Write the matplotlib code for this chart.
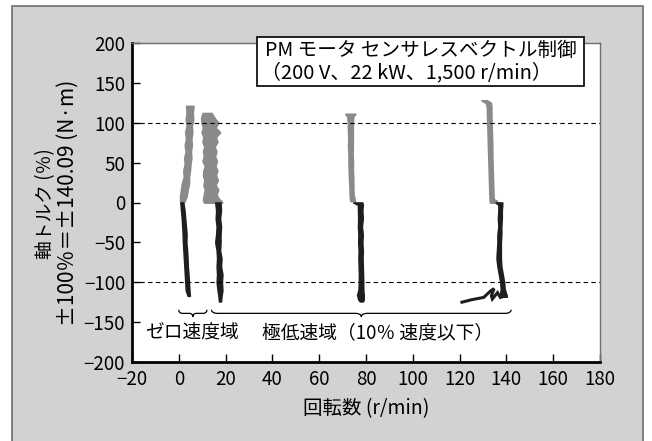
import numpy as np
import matplotlib.pyplot as plt
from matplotlib.patches import Rectangle

plt.rcParams['font.family'] = ['Noto Sans CJK JP', 'DejaVu Sans']

# ---- data: torque (%) levels with left/right speed edges (r/min) ----
# trace 1 (zero speed)
g1_y = [121, 112, 104, 96, 88, 80, 72, 64, 56, 48, 40, 32, 24, 16, 8, 2, 0]
g1_l = [3.2, 3.4, 3.0, 3.4, 2.8, 3.2, 2.6, 3.0, 2.4, 2.6, 2.0, 2.2, 1.4, 1.0, 0.6, 0.6, 0.8]
g1_r = [6.2, 5.9, 6.1, 5.5, 5.7, 5.3, 5.5, 5.1, 5.3, 4.9, 4.7, 4.3, 4.3, 3.7, 3.3, 2.5, 2.1]
b1_y = [0, -10, -20, -30, -40, -50, -60, -70, -80, -90, -100, -110, -117]
b1_l = [0.7, 1.0, 1.3, 1.5, 1.7, 1.8, 2.0, 2.2, 2.4, 2.6, 2.8, 3.0, 3.8]
b1_r = [1.9, 2.4, 2.7, 3.0, 3.3, 3.2, 3.5, 3.7, 3.8, 4.1, 4.3, 4.5, 4.7]

# trace 2
g2_y = [112, 106, 100, 94, 88, 82, 76, 70, 64, 58, 52, 46, 40, 34, 28, 22, 16, 10, 4, 1, 0]
g2_l = [10.2, 9.6, 9.8, 10.4, 9.8, 10.6, 10.2, 11.0, 10.4, 10.8, 10.2, 11.2, 10.6, 10.4,
        11.0, 10.6, 11.2, 10.8, 10.4, 10.6, 11.0]
g2_r = [14.0, 15.2, 16.8, 15.6, 17.6, 15.8, 16.4, 15.2, 16.0, 15.4, 16.2, 15.6, 16.4, 15.8,
        16.6, 15.6, 16.8, 16.0, 17.2, 18.4, 18.4]
b2_y = [0, -10, -20, -30, -40, -50, -60, -70, -80, -90, -100, -110, -118, -124]
b2_l = [15.6, 16.0, 15.8, 16.2, 16.0, 15.6, 16.2, 16.4, 16.2, 16.4, 16.2, 16.6, 17.0, 17.2]
b2_r = [17.8, 18.0, 17.6, 18.0, 17.8, 17.8, 17.6, 18.2, 18.0, 18.6, 18.4, 18.6, 18.2, 18.0]

# trace 3
g3_y = [111, 108, 100, 90, 80, 70, 60, 50, 40, 30, 20, 10, 2]
g3_l = [71.2, 72.1, 72.3, 72.4, 72.5, 72.4, 72.6, 72.6, 72.7, 72.8, 73.0, 73.1, 73.3]
g3_r = [75.4, 74.5, 74.3, 74.3, 74.3, 74.3, 74.2, 74.4, 74.3, 74.5, 74.5, 74.6, 75.2]
b3_y = [0, -3, -10, -20, -30, -40, -50, -60, -70, -80, -90, -100, -110, -116, -122, -124]
b3_l = [74.6, 76.6, 76.6, 76.7, 76.6, 76.8, 76.7, 76.9, 76.8, 76.9, 77.0, 77.0, 76.8, 76.2,
        76.8, 77.4]
b3_r = [78.4, 78.6, 78.4, 78.6, 78.2, 78.6, 78.4, 78.6, 78.5, 78.6, 78.7, 78.8, 78.8, 79.0,
        79.0, 78.6]

# trace 4
g4_y = [128, 125, 120, 110, 100, 90, 80, 70, 60, 50, 40, 30, 20, 10, 4, 2, 0]
g4_l = [129.4, 131.3, 131.7, 131.8, 131.9, 132.0, 132.1, 132.2, 132.3, 132.4, 132.5, 132.6,
        132.7, 132.8, 132.9, 132.9, 133.1]
g4_r = [131.6, 133.3, 133.5, 133.5, 133.6, 133.7, 133.8, 133.9, 133.9, 134.0, 134.1, 134.2,
        134.3, 134.4, 134.5, 135.9, 135.9]
b4_y = [0, -3, -10, -20, -30, -40, -50, -60, -70, -80, -90, -100, -108, -114, -118]
b4_l = [135.4, 136.6, 136.6, 136.4, 136.6, 136.2, 136.2, 136.0, 135.8, 136.2, 136.8, 137.4,
        137.6, 137.4, 138.0]
b4_r = [138.2, 138.2, 138.0, 138.0, 137.8, 137.8, 137.6, 137.6, 137.6, 137.8, 138.4, 139.0,
        139.2, 139.8, 140.2]
# low-speed tail at the bottom of trace 4
t4_x = [121.0, 125.0, 130.3, 133.2, 134.7, 133.6, 134.0, 136.2, 137.4, 139.8]
t4_y = [-125, -122, -119, -111, -108, -117, -121, -113, -119, -117]

gray_bands = [(g1_y, g1_l, g1_r), (g2_y, g2_l, g2_r), (g3_y, g3_l, g3_r), (g4_y, g4_l, g4_r)]
black_bands = [(b1_y, b1_l, b1_r), (b2_y, b2_l, b2_r), (b3_y, b3_l, b3_r), (b4_y, b4_l, b4_r)]

xticks = [-20, 0, 20, 40, 60, 80, 100, 120, 140, 160, 180]
yticks = [-200, -150, -100, -50, 0, 50, 100, 150, 200]

GRAY = '#8a8a8a'
BLACK = '#1e1e1e'
BG = '#d1d2d4'


def brace(ax, x0, x1, y, h=4.0, tip=4.0):
    # curly brace under a range, ends pointing up
    xm = (x0 + x1) / 2
    r = min(2.5, (x1 - x0) / 8)
    t = np.linspace(0, np.pi / 2, 12)
    xs, ys = [], []
    xs += list(x0 + r * (1 - np.cos(t))); ys += list(y + h - h * np.sin(t))
    xs += list(xm - r + r * np.sin(t)); ys += list(y - tip * (1 - np.cos(t)))
    xs += list(xm + r * (1 - np.cos(t))); ys += list(y - tip + tip * np.sin(t))
    xs += list(x1 - r + r * np.sin(t)); ys += list(y + h * (1 - np.cos(t)))
    ax.plot(xs, ys, color='black', lw=0.9, solid_capstyle='round')


fig = plt.figure(figsize=(6.52, 4.41), dpi=100, facecolor='white')
fig.patches.append(Rectangle((12 / 652, -0.05), (643 - 12) / 652, 1.05 - 6 / 441,
                             transform=fig.transFigure, facecolor=BG,
                             edgecolor='#6e6e70', lw=1.2, zorder=-10))

ax = fig.add_axes([132 / 652, 1 - 362 / 441, (600 - 132) / 652, (362 - 43) / 441])
ax.set_facecolor('white')

ax.axhline(100, color='black', lw=0.8, ls=(0, (4, 3)))
ax.axhline(-100, color='black', lw=0.8, ls=(0, (4, 3)))

for ys, xl, xr in gray_bands:
    ax.fill_betweenx(ys, xl, xr, facecolor=GRAY, edgecolor=GRAY, lw=1.4)
for ys, xl, xr in black_bands:
    ax.fill_betweenx(ys, xl, xr, facecolor=BLACK, edgecolor=BLACK, lw=1.2)
ax.plot(t4_x, t4_y, color=BLACK, lw=2.2, solid_joinstyle='miter')

brace(ax, 0, 12, -139)
brace(ax, 14, 142, -139)
ax.text(5.8, -164, 'ゼロ速度域', ha='center', va='center', fontsize=13.5)
ax.text(85, -164, '極低速域（10％ 速度以下）', ha='center', va='center', fontsize=13.5)

ax.set_xlim(-20, 180)
ax.set_ylim(-200, 200)
ax.set_xticks(xticks)
ax.set_yticks(yticks)
ax.tick_params(direction='in', length=6, width=1, labelsize=13.5, pad=5)
for s in ['left', 'bottom']:
    ax.spines[s].set_linewidth(2)
    ax.spines[s].set_color('black')
for s in ['top', 'right']:
    ax.spines[s].set_linewidth(1)
    ax.spines[s].set_color('#6e6e6e')

ax.set_xlabel('回転数 (r/min)', fontsize=14, labelpad=6)
# two-line y label, second line a bit larger as in the original
fig.text(46 / 652, 1 - 204 / 441, '軸トルク (％)', rotation=90, fontsize=13.5,
         ha='center', va='center')
fig.text(68 / 652, 1 - 203 / 441, '±100％＝±140.09 (N·m)', rotation=90, fontsize=15,
         ha='center', va='center')

# title box
fig.patches.append(Rectangle((257 / 652, 1 - 86 / 441), (584 - 257) / 652, 49 / 441,
                             transform=fig.transFigure, facecolor='white',
                             edgecolor='black', lw=1.2, zorder=5))
fig.text(265 / 652, 1 - 50 / 441, 'PM モータ センサレスベクトル制御', fontsize=14.1,
         va='center', ha='left', zorder=6)
fig.text(261 / 652, 1 - 73 / 441, '（200 V、22 kW、1,500 r/min）', fontsize=14.4,
         va='center', ha='left', zorder=6)

fig.savefig('out.png', dpi=100, facecolor='white')
